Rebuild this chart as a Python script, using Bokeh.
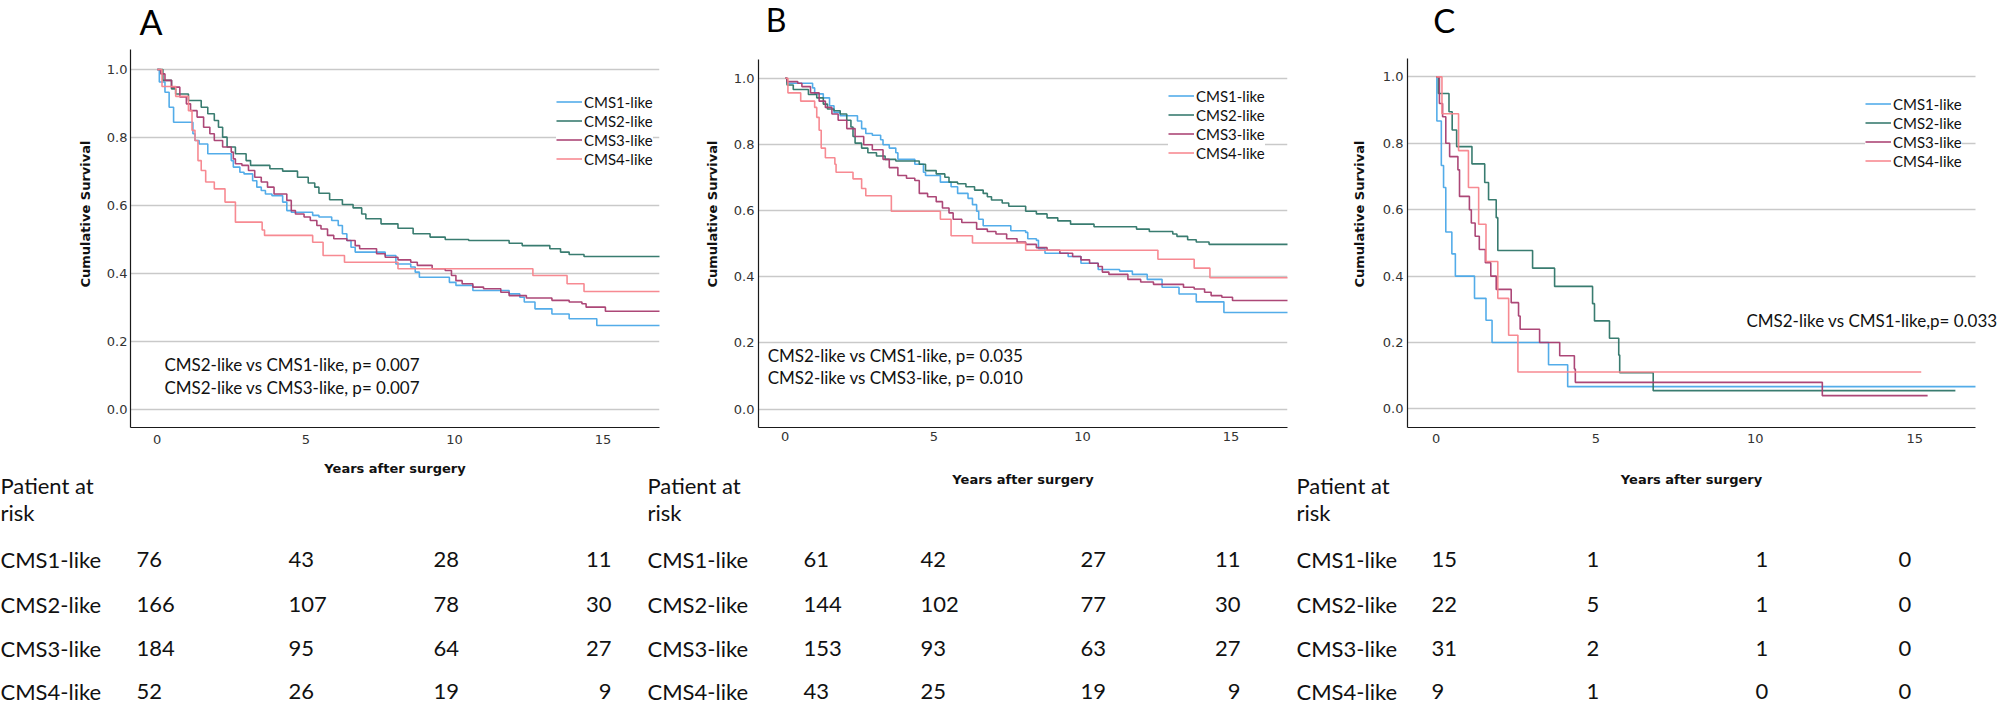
from bokeh.plotting import figure
from bokeh.models import (Range1d, FixedTicker, NumeralTickFormatter, Legend,
                          LegendItem, Label)
from bokeh.layouts import column, row
from bokeh.embed import file_html
from bokeh.resources import INLINE
from bokeh.core.properties import value

# ---------------------------------------------------------------- data
GROUPS = ["CMS1-like", "CMS2-like", "CMS3-like", "CMS4-like"]
COLORS = ["#4aa8e8", "#2e7568", "#a83d70", "#f7848c"]

# Kaplan-Meier estimates: event times (years) and survival after each event.
# Panel A
A_CMS1_T = [0.07, 0.26, 0.40, 0.55, 1.20, 1.27, 1.41, 1.70, 2.49, 2.56, 2.78, 2.92,
            3.21, 3.35, 3.50, 3.64, 3.86, 4.22, 4.36, 4.51, 5.23, 5.44, 5.87, 6.09,
            6.23, 6.38, 6.52, 6.66, 7.67, 8.03, 8.53, 8.68, 8.82, 9.83, 10.05, 10.62,
            11.84, 12.20, 12.35, 12.71, 13.28, 13.86, 14.79]
A_CMS1_S = [0.963, 0.933, 0.889, 0.845, 0.811, 0.791, 0.781, 0.752, 0.732, 0.713, 0.698,
            0.693, 0.673, 0.654, 0.644, 0.634, 0.629, 0.610, 0.585, 0.580, 0.571, 0.566,
            0.556, 0.541, 0.517, 0.497, 0.477, 0.463, 0.453, 0.428, 0.419, 0.404, 0.389,
            0.374, 0.365, 0.350, 0.340, 0.330, 0.316, 0.296, 0.281, 0.267, 0.247]
A_CMS2_T = [0.19, 0.48, 0.62, 1.05, 1.48, 1.70, 1.92, 2.06, 2.20, 2.35, 2.63, 2.99, 3.14,
            3.79, 4.22, 4.72, 5.08, 5.30, 5.44, 5.80, 6.23, 6.59, 6.88, 7.02, 7.53, 8.10,
            8.61, 9.18, 9.69, 10.48, 11.84, 12.28, 13.21, 13.57, 13.86, 14.36]
A_CMS2_S = [0.968, 0.943, 0.928, 0.909, 0.889, 0.870, 0.850, 0.830, 0.801, 0.772, 0.752,
            0.732, 0.718, 0.708, 0.701, 0.683, 0.666, 0.654, 0.636, 0.617, 0.603, 0.593,
            0.575, 0.561, 0.546, 0.533, 0.517, 0.507, 0.500, 0.497, 0.489, 0.482, 0.473,
            0.463, 0.456, 0.450]
A_CMS3_T = [0.12, 0.26, 0.48, 0.76, 0.98, 1.12, 1.34, 1.56, 1.77, 1.92, 2.20, 2.49, 2.56,
            2.63, 2.85, 3.07, 3.28, 3.50, 3.71, 3.93, 4.36, 4.51, 4.65, 4.94, 5.15, 5.37,
            5.51, 5.73, 5.94, 6.38, 6.66, 6.81, 7.38, 7.67, 8.10, 8.53, 8.75, 9.25, 9.69,
            9.90, 10.05, 10.26, 10.62, 10.98, 11.56, 11.84, 12.42, 13.28, 13.86, 14.29,
            14.43, 15.08]
A_CMS3_S = [0.987, 0.968, 0.948, 0.919, 0.899, 0.879, 0.860, 0.830, 0.811, 0.791, 0.772,
            0.757, 0.737, 0.723, 0.718, 0.703, 0.683, 0.669, 0.654, 0.634, 0.615, 0.585,
            0.575, 0.566, 0.556, 0.541, 0.531, 0.512, 0.502, 0.497, 0.482, 0.473, 0.458,
            0.448, 0.440, 0.433, 0.424, 0.414, 0.409, 0.394, 0.379, 0.370, 0.360, 0.355,
            0.345, 0.335, 0.328, 0.321, 0.316, 0.311, 0.301, 0.289]
A_CMS4_T = [0.16, 0.62, 1.05, 1.17, 1.27, 1.37, 1.48, 1.63, 1.92, 2.28, 2.63, 3.53, 3.61,
            5.23, 5.58, 6.30, 8.10, 12.64, 13.79, 14.36]
A_CMS4_S = [0.950, 0.921, 0.879, 0.821, 0.791, 0.732, 0.703, 0.669, 0.649, 0.610, 0.551,
            0.528, 0.512, 0.492, 0.453, 0.433, 0.414, 0.394, 0.370, 0.347]
A_END = [17.2, 17.2, 17.2, 17.2]

# Panel B
B_CMS1_T = [0.06, 0.92, 0.99, 1.28, 1.49, 1.64, 1.85, 2.43, 2.57, 2.71, 2.93, 3.21, 3.29,
            3.50, 3.72, 3.79, 4.36, 4.65, 4.72, 5.22, 5.58, 5.80, 6.15, 6.30, 6.44, 6.51,
            6.66, 7.59, 8.09, 8.16, 8.45, 8.52, 8.74, 9.52, 9.95, 10.53, 11.25, 11.68,
            12.18, 12.68, 13.25, 13.83, 14.76]
B_CMS1_S = [0.985, 0.971, 0.953, 0.941, 0.917, 0.897, 0.887, 0.871, 0.848, 0.833, 0.828,
            0.814, 0.799, 0.789, 0.775, 0.755, 0.740, 0.716, 0.706, 0.686, 0.672, 0.652,
            0.637, 0.618, 0.598, 0.574, 0.554, 0.539, 0.534, 0.515, 0.510, 0.485, 0.471,
            0.461, 0.441, 0.422, 0.417, 0.407, 0.392, 0.368, 0.348, 0.324, 0.292]
B_CMS2_T = [0.06, 0.27, 0.78, 1.06, 1.28, 1.42, 1.64, 1.85, 2.07, 2.21, 2.28, 2.35, 2.57,
            2.78, 3.07, 3.36, 3.72, 4.51, 4.72, 5.08, 5.37, 5.51, 5.80, 6.08, 6.37, 6.66,
            6.80, 6.94, 7.30, 7.52, 8.09, 8.45, 8.81, 9.17, 9.60, 10.39, 11.82, 12.25,
            13.04, 13.18, 13.54, 13.83, 14.26]
B_CMS2_S = [0.980, 0.966, 0.951, 0.941, 0.922, 0.907, 0.902, 0.892, 0.873, 0.853, 0.824,
            0.804, 0.789, 0.775, 0.765, 0.755, 0.750, 0.740, 0.721, 0.711, 0.701, 0.686,
            0.681, 0.672, 0.662, 0.652, 0.642, 0.632, 0.623, 0.613, 0.598, 0.590, 0.578,
            0.569, 0.559, 0.551, 0.544, 0.537, 0.529, 0.522, 0.512, 0.505, 0.498]
B_CMS3_T = [0.06, 0.42, 0.56, 0.85, 1.14, 1.35, 1.57, 1.78, 2.07, 2.35, 2.64, 2.93, 3.29,
            3.50, 3.79, 4.08, 4.36, 4.51, 4.79, 5.08, 5.29, 5.51, 5.65, 5.94, 6.44, 6.80,
            7.09, 7.45, 7.80, 8.09, 8.45, 8.81, 9.24, 9.67, 9.95, 10.24, 10.53, 10.67,
            10.89, 11.53, 11.96, 12.39, 13.40, 13.76, 14.11, 14.33, 14.69, 15.05]
B_CMS3_S = [0.990, 0.985, 0.975, 0.956, 0.931, 0.912, 0.892, 0.873, 0.848, 0.824, 0.799,
            0.784, 0.755, 0.730, 0.706, 0.698, 0.691, 0.652, 0.642, 0.627, 0.608, 0.593,
            0.574, 0.564, 0.544, 0.537, 0.529, 0.515, 0.505, 0.498, 0.488, 0.480, 0.471,
            0.461, 0.451, 0.441, 0.431, 0.414, 0.407, 0.392, 0.384, 0.377, 0.368, 0.363,
            0.353, 0.343, 0.338, 0.328]
B_CMS4_T = [0.09, 0.52, 0.99, 1.06, 1.14, 1.21, 1.35, 1.67, 1.71, 2.28, 2.57, 2.71, 3.57,
            5.22, 5.58, 6.30, 8.09, 12.54, 13.76, 14.29]
B_CMS4_S = [0.956, 0.931, 0.912, 0.882, 0.843, 0.789, 0.760, 0.740, 0.716, 0.696, 0.667,
            0.645, 0.598, 0.574, 0.524, 0.502, 0.480, 0.453, 0.426, 0.397]
B_END = [17.2, 17.2, 17.2, 17.2]

# Panel C
C_CMS1_T = [0.02, 0.16, 0.23, 0.30, 0.49, 0.60, 1.20, 1.56, 1.75, 3.52, 4.12]
C_CMS1_S = [0.867, 0.733, 0.667, 0.533, 0.467, 0.400, 0.333, 0.267, 0.200, 0.133, 0.067]
C_CMS2_T = [0.07, 0.40, 0.50, 0.64, 1.12, 1.52, 1.64, 1.88, 1.93, 3.02, 3.71, 4.90, 4.96,
            5.43, 5.72, 5.75, 6.80]
C_CMS2_S = [0.950, 0.895, 0.840, 0.790, 0.738, 0.682, 0.630, 0.576, 0.477, 0.424, 0.369,
            0.317, 0.265, 0.213, 0.162, 0.109, 0.055]
C_CMS3_T = [0.10, 0.20, 0.30, 0.42, 0.68, 0.73, 1.04, 1.10, 1.22, 1.35, 1.54, 1.71, 1.88,
            2.35, 2.58, 2.63, 3.24, 3.87, 4.33, 4.36, 12.10]
C_CMS3_S = [0.92, 0.88, 0.80, 0.76, 0.72, 0.64, 0.60, 0.56, 0.52, 0.48, 0.44, 0.40, 0.36,
            0.32, 0.28, 0.24, 0.20, 0.16, 0.12, 0.08, 0.04]
C_CMS4_T = [0.18, 0.70, 1.01, 1.33, 1.56, 1.93, 2.27, 2.56]
C_CMS4_S = [0.889, 0.778, 0.667, 0.556, 0.444, 0.333, 0.222, 0.111]
C_END = [16.9, 16.27, 15.40, 15.20]

# Log-rank comparisons
P_TEXT_A = ["CMS2-like vs CMS1-like, p= 0.007", "CMS2-like vs CMS3-like, p= 0.007"]
P_TEXT_B = ["CMS2-like vs CMS1-like, p= 0.035", "CMS2-like vs CMS3-like, p= 0.010"]
P_TEXT_C = ["CMS2-like vs CMS1-like,p= 0.033"]

# Numbers at risk (rows: CMS1..CMS4, columns: 0, 5, 10, 15 years)
RISK_A = [[76, 43, 28, 11], [166, 107, 78, 30], [184, 95, 64, 27], [52, 26, 19, 9]]
RISK_B = [[61, 42, 27, 11], [144, 102, 77, 30], [153, 93, 63, 27], [43, 25, 19, 9]]
RISK_C = [[15, 1, 1, 0], [22, 5, 1, 0], [31, 2, 1, 0], [9, 1, 0, 0]]

X_TICKS = [0, 5, 10, 15]
Y_TICKS = [0.0, 0.2, 0.4, 0.6, 0.8, 1.0]
X_AXIS_SPAN = (-0.9, 16.9)
X_TITLE = "Years after surgery"

# ---------------------------------------------------------------- styling
TXT_FONT = "Lato"
AX_FONT = "DejaVu Sans"
TOP_H = 459


def km_panel(letter, curves, ends, ptexts, *, width, left, right, bottom, x_end, y0, ytop,
             axis_top, xstd, ystd, ylab_std, letter_pos, letter_size, ptext_pos,
             legend_loc):
    p = figure(width=width, height=TOP_H, title=None,
               x_range=Range1d(X_AXIS_SPAN[0], x_end), y_range=Range1d(y0, ytop),
               min_border_left=left, min_border_right=right, min_border_top=0,
               min_border_bottom=bottom, toolbar_location=None, output_backend="svg")
    p.outline_line_color = None
    p.background_fill_color = "white"

    items = []
    for (t, s), end, name, col in zip(curves, ends, GROUPS, COLORS):
        xs = [0.0] + list(t) + [end]
        ys = [1.0] + list(s) + [s[-1]]
        r = p.step(xs, ys, mode="after", line_color=col, line_width=1.6, line_alpha=0.95)
        items.append(LegendItem(label=name, renderers=[r]))

    legend = Legend(items=items, location=legend_loc, padding=5, margin=0, spacing=0,
                    glyph_width=26, glyph_height=19, label_height=19, label_standoff=2,
                    label_text_font=TXT_FONT, label_text_font_size="15px",
                    label_text_color="#111111", background_fill_color="white",
                    background_fill_alpha=1.0, border_line_color=None)
    p.add_layout(legend)

    p.xaxis.ticker = FixedTicker(ticks=X_TICKS)
    p.yaxis.ticker = FixedTicker(ticks=Y_TICKS)
    p.yaxis.formatter = NumeralTickFormatter(format="0.0")
    p.yaxis.bounds = (y0, axis_top)
    p.xaxis.bounds = X_AXIS_SPAN
    for ax in (p.xaxis, p.yaxis):
        ax.axis_line_color = "#1a1a1a"
        ax.axis_line_width = 1.2
        ax.major_tick_out = 0
        ax.major_tick_in = 0
        ax.minor_tick_out = 0
        ax.minor_tick_in = 0
        ax.major_tick_line_color = None
        ax.minor_tick_line_color = None
        ax.major_label_text_font = AX_FONT
        ax.major_label_text_font_size = "13px"
        ax.major_label_text_color = "#333333"
    p.xaxis.major_label_standoff = xstd
    p.yaxis.major_label_standoff = ystd
    p.yaxis.axis_label = "Cumulative Survival"
    p.yaxis.axis_label_standoff = ylab_std
    p.yaxis.axis_label_text_font = AX_FONT
    p.yaxis.axis_label_text_font_style = "bold"
    p.yaxis.axis_label_text_font_size = "13px"
    p.yaxis.axis_label_text_color = "#111111"

    p.xgrid.visible = False
    grid = p.ygrid[0]
    grid.grid_line_color = "#c9c9c9"
    grid.grid_line_width = 1.3
    if "cross_bounds" in grid.properties():
        grid.cross_bounds = X_AXIS_SPAN

    p.add_layout(Label(x=letter_pos[0], y=letter_pos[1], text=letter,
                       text_font=TXT_FONT, text_font_size=letter_size,
                       text_baseline="middle", text_align="left",
                       text_color="#000000"))
    px, py, dy = ptext_pos
    for i, txt in enumerate(ptexts):
        p.add_layout(Label(x=px, y=py - i * dy, text=txt, text_font=TXT_FONT,
                           text_font_size="17px", text_baseline="middle",
                           text_align="left", text_color="#111111"))
    return p


pA = km_panel("A", [(A_CMS1_T, A_CMS1_S), (A_CMS2_T, A_CMS2_S), (A_CMS3_T, A_CMS3_S),
                    (A_CMS4_T, A_CMS4_S)], A_END, P_TEXT_A,
              width=695, left=130, right=36, bottom=TOP_H - 427, x_end=16.9,
              y0=-0.0529, ytop=1.2029, axis_top=1.0588,
              xstd=7, ystd=3, ylab_std=11,
              letter_pos=(-0.6, 1.1412), letter_size="34px",
              ptext_pos=(0.24, 0.1312, 0.0662), legend_loc=(426, 259))

pB = km_panel("B", [(B_CMS1_T, B_CMS1_S), (B_CMS2_T, B_CMS2_S), (B_CMS3_T, B_CMS3_S),
                    (B_CMS4_T, B_CMS4_S)], B_END, P_TEXT_B,
              width=645, left=63, right=53, bottom=TOP_H - 439, x_end=16.9,
              y0=-0.0559, ytop=1.2353, axis_top=1.0559,
              xstd=4, ystd=4, ylab_std=11,
              letter_pos=(-0.66, 1.1774), letter_size="32px",
              ptext_pos=(-0.59, 0.1606, 0.0647), legend_loc=(410, 265))

pC = km_panel("C", [(C_CMS1_T, C_CMS1_S), (C_CMS2_T, C_CMS2_S), (C_CMS3_T, C_CMS3_S),
                    (C_CMS4_T, C_CMS4_S)], C_END, P_TEXT_C,
              width=657, left=67, right=0, bottom=TOP_H - 436, x_end=17.59,
              y0=-0.056, ytop=1.2301, axis_top=1.056,
              xstd=6, ystd=4, ylab_std=13,
              letter_pos=(-0.09, 1.1702), letter_size="33px",
              ptext_pos=(9.72, 0.2657, 0.0), legend_loc=(458, 257))

# ---------------------------------------------------------------- risk tables
TAB_H = 704 - TOP_H
tab = figure(width=1997, height=TAB_H, title=None, x_range=Range1d(0, 1997),
             y_range=Range1d(704, TOP_H), min_border=0, x_axis_type=None,
             y_axis_type=None, toolbar_location=None, output_backend="svg")
tab.outline_line_color = None

TABLE_LEFT = [0, 647, 1296]
TABLE_COLS = [[136, 288, 433, 611], [803, 920, 1080, 1240], [1431, 1586, 1755, 1898]]
TABLE_ALIGN = [["left", "left", "left", "right"], ["left", "left", "left", "right"],
               ["left", "left", "left", "left"]]
# vertical centres of the text lines
HEAD_MID = [485.0, 511.5]
ROW_MID = [559.0, 603.5, 648.0, 690.5]
# x-axis titles, centred under each plot frame
AXIS_TITLE_X = [394.5, 1022.5, 1691.0]
AXIS_TITLE_MID = [467.5, 479.0, 479.0]

txt_kw = dict(text_font=value(TXT_FONT), text_font_size="22px",
              text_baseline="middle", text_color="#111111")

for left, cols, aligns, risk in zip(TABLE_LEFT, TABLE_COLS, TABLE_ALIGN,
                                    [RISK_A, RISK_B, RISK_C]):
    tab.text(x=[left, left], y=HEAD_MID, text=["Patient at", "risk"],
             text_align="left", **txt_kw)
    tab.text(x=[left] * len(GROUPS), y=ROW_MID, text=GROUPS, text_align="left", **txt_kw)
    for j, (cx, al) in enumerate(zip(cols, aligns)):
        tab.text(x=[cx] * len(risk), y=ROW_MID, text=[str(r[j]) for r in risk],
                 text_align=al, **txt_kw)

tab.text(x=AXIS_TITLE_X, y=AXIS_TITLE_MID, text=[X_TITLE] * 3,
         text_font=value(AX_FONT), text_font_size="13px", text_font_style="bold",
         text_align="center", text_baseline="middle", text_color="#111111")

layout = column(row(pA, pB, pC), tab)
open("out.html", "w").write(file_html(layout, INLINE))
